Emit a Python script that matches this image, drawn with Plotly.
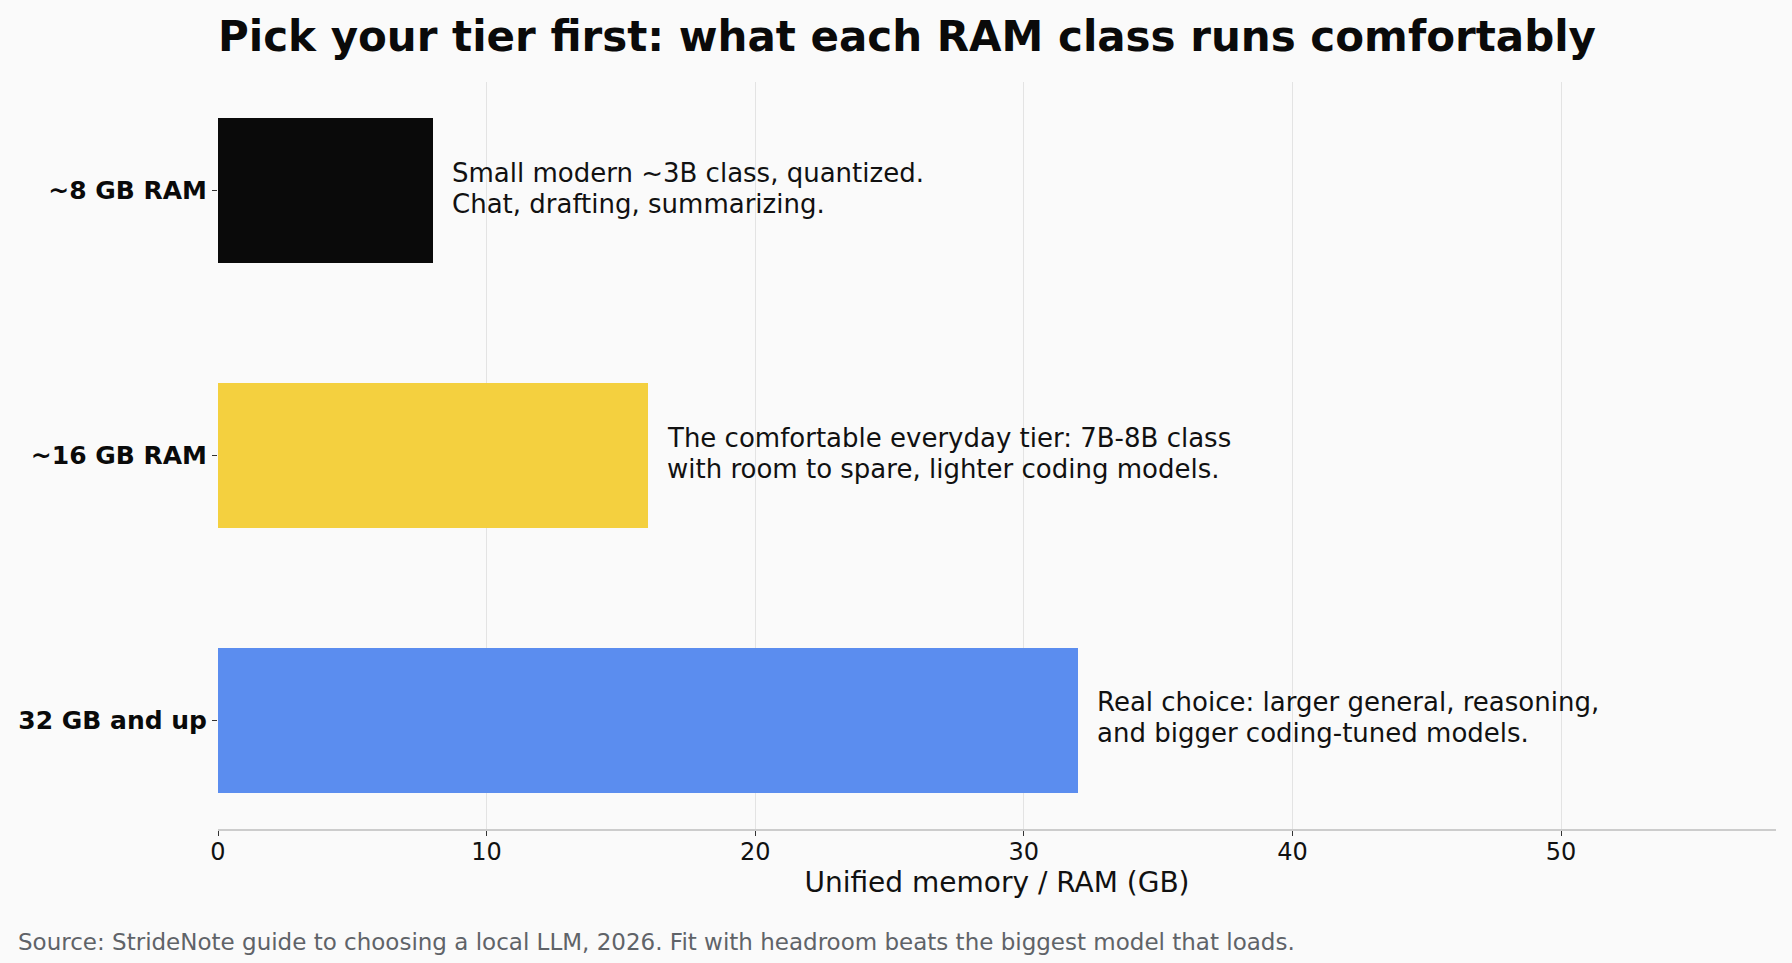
import plotly.graph_objects as go

tiers = ["~8 GB RAM", "~16 GB RAM", "32 GB and up"]
ram_gb = [8, 16, 32]
colors = ["#0a0a0a", "#f4d03f", "#5b8def"]
notes = [
    ["Small modern ~3B class, quantized.", "Chat, drafting, summarizing."],
    ["The comfortable everyday tier: 7B-8B class", "with room to spare, lighter coding models."],
    ["Real choice: larger general, reasoning,", "and bigger coding-tuned models."],
]
x_ticks = [0, 10, 20, 30, 40, 50]

FONT = "DejaVu Sans"
ypos = list(range(len(tiers)))

fig = go.Figure()
fig.add_trace(go.Bar(
    x=ram_gb, y=ypos, orientation="h",
    marker=dict(color=colors, line=dict(width=0)),
    width=0.55, hoverinfo="skip", showlegend=False,
))

for yi, v, lines in zip(ypos, ram_gb, notes):
    for k, line in enumerate(lines):
        fig.add_annotation(
            x=v, y=yi, xref="x", yref="y", text=line, showarrow=False,
            xanchor="left", yanchor="middle", align="left", xshift=17,
            yshift=18 - 31 * k,
            font=dict(family=FONT, size=26, color="#111111"),
        )

fig.add_annotation(
    x=0, y=0, xref="paper", yref="paper", xanchor="left", yanchor="middle",
    text="Source: StrideNote guide to choosing a local LLM, 2026. Fit with headroom beats the biggest model that loads.",
    showarrow=False, xshift=-202, yshift=-113,
    font=dict(family=FONT, size=23, color="#5f6368"),
)

fig.update_layout(
    width=1792, height=963,
    paper_bgcolor="#fafafa", plot_bgcolor="#fafafa",
    margin=dict(l=218, r=16, t=82, b=134),
    title=dict(
        text="<b>Pick your tier first: what each RAM class runs comfortably</b>",
        x=0, xanchor="left", xref="paper", y=1 - 36/963, yanchor="middle",
        font=dict(family=FONT, size=42, color="#0a0a0a"),
    ),
    bargap=0,
)
fig.update_xaxes(
    range=[0, 58], tickvals=x_ticks, ticktext=[str(t) for t in x_ticks],
    showgrid=True, gridcolor="#e3e3e3", gridwidth=1.3,
    showline=True, linecolor="#cccccc", linewidth=1.5,
    ticks="outside", ticklen=5, tickcolor="#333333", tickwidth=1,
    ticklabelstandoff=-5,
    tickfont=dict(family=FONT, size=24, color="#111111"),
    title=dict(text="Unified memory / RAM (GB)", standoff=4,
               font=dict(family=FONT, size=28, color="#111111")),
    zeroline=False,
)
fig.update_yaxes(
    range=[2.41, -0.41], tickvals=ypos, ticktext=[f"<b>{t}</b>" for t in tiers],
    showgrid=False, showline=False, zeroline=False,
    ticks="outside", ticklen=5, tickcolor="#333333", tickwidth=1,
    tickfont=dict(family=FONT, size=25, color="#0a0a0a"),
)

fig.write_html("out.html")
